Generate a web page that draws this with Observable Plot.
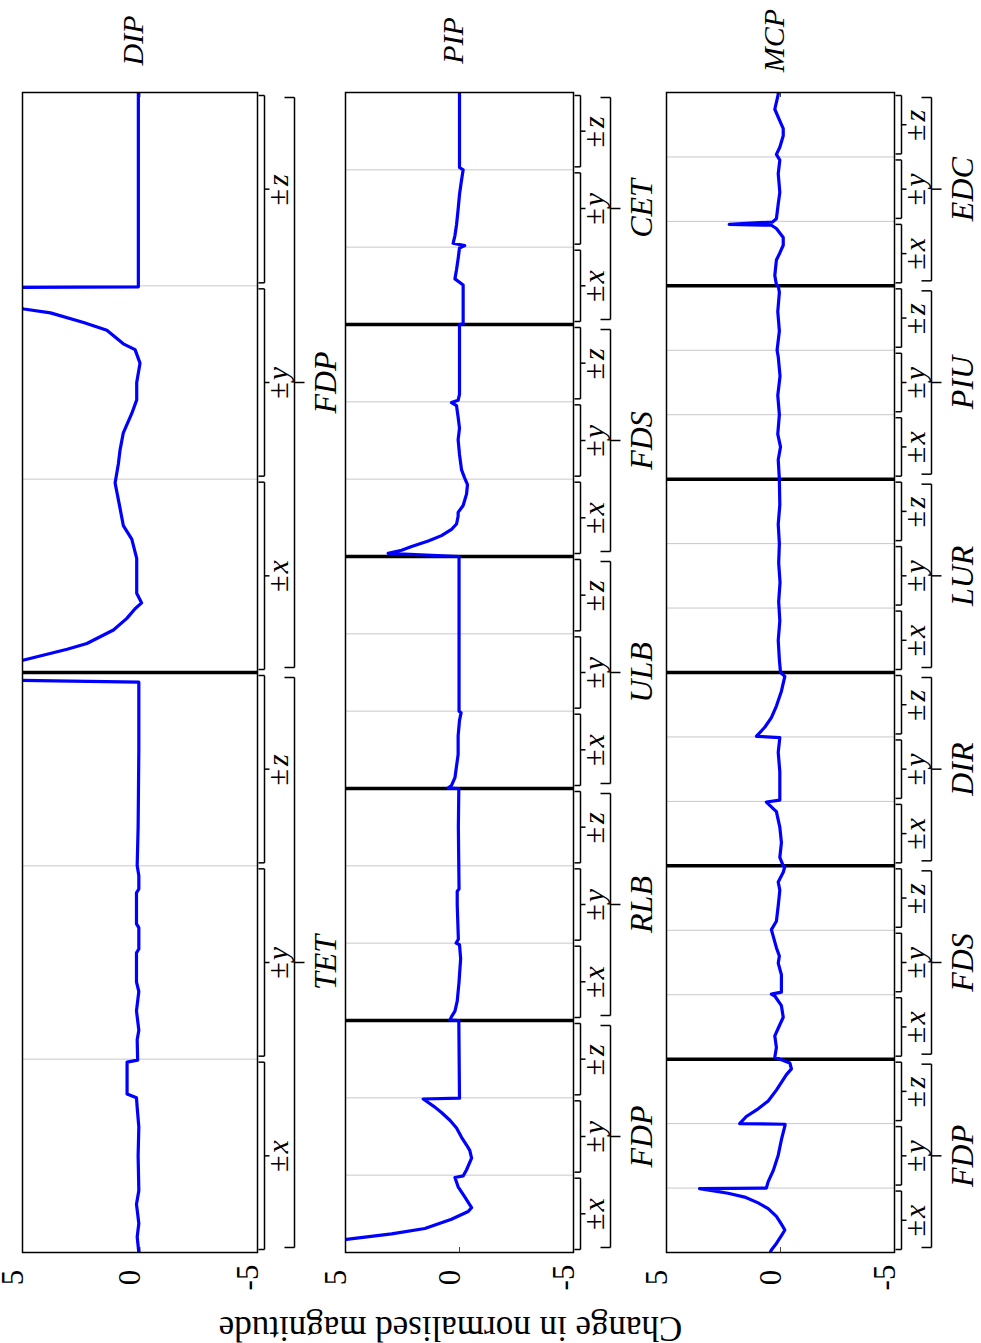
<!DOCTYPE html>
<html><head><meta charset="utf-8">
<script src="https://cdn.jsdelivr.net/npm/d3@7"></script>
<script src="https://cdn.jsdelivr.net/npm/@observablehq/plot@0.6"></script>
<style>
body{margin:0;background:#fff;}
#root{position:relative;width:981px;height:1343px;overflow:hidden;background:#fff;}
#root svg{position:absolute;top:0;left:0;}
</style></head><body><div id="root"></div>
<script>
// ---- data ----
const valueTicks = [5, 0, -5];
const axisNames = ["x", "y", "z"];
const dipGroups = ["TET", "FDP"];
const pipGroups = ["FDP", "RLB", "ULB", "FDS", "CET"];
const mcpGroups = ["FDP", "FDS", "DIR", "LUR", "PIU", "EDC"];
const yLabel = "Change in normalised magnitude";

// [position along sub-axes, change in normalised magnitude]
const dipCurve = [
  [0.00,0.05],[0.08,0.12],[0.15,0.05],[0.25,0.15],[0.32,0.05],[0.5,0.08],[0.65,0.05],[0.75,0.12],[0.80,0.15],
  [0.82,0.55],[0.985,0.55],[0.995,0.1],[1.1,0.12],[1.15,0.05],[1.25,0.15],[1.35,0.05],[1.40,0.15],[1.55,0.15],
  [1.57,0.05],[1.68,0.05],[1.70,0.15],[1.86,0.15],[1.88,0.05],[1.95,0.05],[2.0,0.12],[2.2,0.08],[2.6,0.05],
  [2.95,0.05],[2.965,8],
  [3.065,4.94],[3.12,3.1],[3.15,2.26],[3.22,1.13],[3.28,0.56],[3.33,0.21],[3.36,-0.07],[3.41,0.14],[3.5,0.14],
  [3.59,0.14],[3.69,0.35],[3.76,0.71],[3.85,0.85],[3.98,1.06],[4.08,0.92],[4.15,0.85],[4.24,0.71],[4.34,0.35],
  [4.41,0.14],[4.5,0.14],[4.6,0.0],[4.67,0.21],[4.7,0.71],[4.77,1.41],[4.81,2.4],[4.86,3.81],[4.88,4.94],
  [4.99,8],[4.995,0.07],[6,0.07]
];
const pipCurve = [
  [0.0,7],[0.17,4.96],[0.24,2.98],[0.31,1.52],[0.43,0.35],[0.53,-0.38],[0.58,-0.53],[0.72,-0.23],[0.85,0.06],
  [0.97,0.2],[0.99,-0.16],[1.07,-0.31],[1.22,-0.53],[1.32,-0.45],[1.39,-0.31],[1.49,-0.09],[1.61,0.13],
  [1.71,0.42],[1.81,0.79],[1.88,1.08],[1.94,1.37],[1.985,1.59],[1.995,0.0],[3.0,0.03],
  [3.005,0.42],[3.05,0.35],[3.12,0.2],[3.25,0.1],[3.5,0.02],[3.8,-0.05],[3.98,0.0],[4.0,0.15],[4.05,0.05],
  [4.5,0.1],[4.67,0.1],[4.7,0.02],[5.5,0.05],[6.0,0.03],
  [6.005,0.5],[6.04,0.35],[6.14,0.2],[6.29,0.13],[6.44,0.06],[6.68,0.06],[6.88,0.0],[6.98,-0.07],[7.0,0.02],
  [9.0,0.02],
  [9.04,3.13],[9.08,2.54],[9.13,2.1],[9.2,1.37],[9.27,0.79],[9.35,0.35],[9.42,0.13],[9.52,0.06],[9.57,0.06],
  [9.66,-0.16],[9.81,-0.31],[9.93,-0.35],[10.02,-0.22],[10.12,-0.09],[10.32,0.0],[10.51,0.06],[10.66,0.0],
  [10.8,0.06],[10.95,0.13],[10.99,0.35],[11.02,0.06],[11.1,0.0],[12.0,0.0],
  [12.01,-0.16],[12.51,-0.16],[12.59,0.2],[12.71,0.13],[12.85,0.06],[12.99,0.0],[13.02,-0.23],[13.05,0.28],
  [13.15,0.2],[13.29,0.13],[13.49,0.06],[13.68,0.0],[13.83,-0.07],[14.0,-0.16],[14.03,0.0],[15.0,0.0]
];
const mcpCurve = [
  [0.0,0.45],[0.04,0.4],[0.14,0.18],[0.26,-0.04],[0.35,-0.19],[0.44,-0.04],[0.56,0.18],[0.68,0.54],[0.77,0.98],
  [0.86,1.57],[0.92,2.3],[0.99,3.55],[1.0,0.62],[1.1,0.54],[1.27,0.32],[1.51,0.1],[1.75,-0.04],[1.96,-0.19],
  [1.99,-0.2],[2.0,1.79],[2.11,1.5],[2.23,0.98],[2.35,0.54],[2.52,0.18],[2.64,-0.04],[2.76,-0.26],[2.85,-0.48],
  [2.94,-0.41],[2.99,-0.04],[3.03,0.25],
  [3.18,0.18],[3.36,0.25],[3.48,0.1],[3.65,-0.12],[3.83,-0.04],[3.98,0.25],[4.01,0.4],[4.04,-0.04],[4.31,-0.04],
  [4.49,0.1],[4.6,0.05],[4.73,0.18],[5.01,0.4],[5.14,0.18],[5.38,0.1],[5.62,0.03],[5.75,0.1],[5.9,-0.12],[5.99,-0.19],
  [6.0,-0.12],[6.13,0.03],[6.36,-0.04],[6.6,0.03],[6.84,0.18],[6.99,0.62],[7.02,0.03],[7.46,0.03],[7.76,0.1],
  [7.99,0.03],[8.01,1.06],[8.15,0.69],[8.3,0.4],[8.48,0.18],[8.71,-0.04],[8.94,-0.19],[9.0,0.0],
  [9.2,0.05],[9.5,0.1],[9.8,0.03],[10.1,0.08],[10.4,0.02],[10.7,0.08],[11.0,0.05],[11.3,0.1],[11.6,0.03],[12.0,0.05],
  [12.3,0.1],[12.5,0.0],[12.7,0.12],[13.0,0.05],[13.3,0.12],[13.6,0.02],[13.9,0.1],[14.0,0.15],[14.3,0.05],
  [14.6,0.12],[14.9,0.05],[15.0,0.1],
  [15.02,0.18],[15.16,0.25],[15.4,0.18],[15.51,0.03],[15.63,-0.12],[15.75,-0.12],[15.89,0.18],[15.94,0.4],
  [15.955,2.25],[15.99,0.35],[16.04,0.18],[16.27,0.1],[16.45,0.03],[16.74,0.1],[16.95,0.03],[17.04,0.18],
  [17.15,0.03],[17.33,-0.12],[17.44,-0.12],[17.56,0.03],[17.74,0.25],[17.97,0.1],[18.0,0.1]
];

// ---- layout ----
const FONT = "'Liberation Serif','Times New Roman',serif";
const TOP = 92, BOTTOM = 1252, H = 1343, FULLW = 981;
const panels = [
  {title: "DIP", groups: dipGroups, curve: dipCurve, left: 22, right: 257},
  {title: "PIP", groups: pipGroups, curve: pipCurve, left: 345, right: 573, ylabel: true},
  {title: "MCP", groups: mcpGroups, curve: mcpCurve, left: 666, right: 894}
];

function makePanel(p) {
  const W = p.right - p.left;
  const N = p.groups.length * 3;
  const kx = 10 / W;
  const ky = N / (BOTTOM - TOP);
  const xo = off => -5 - off * kx;
  const subs = [];
  p.groups.forEach((g, gi) => axisNames.forEach((a, ai) => subs.push({g, a, start: gi * 3 + ai, end: gi * 3 + ai + 1})));
  const groups = p.groups.map((g, gi) => ({g, start: gi * 3, end: gi * 3 + 3}));
  const grid = d3.range(1, N).filter(i => i % 3 !== 0);
  const seps = d3.range(3, N, 3);
  const segs = [];
  const gs = 3 * ky, gg = 5 * ky;
  subs.forEach(s => {
    const a = s.start + gs, b = s.end - gs, m = (s.start + s.end) / 2;
    segs.push({x1: xo(1), y1: a, x2: xo(7), y2: a}, {x1: xo(7), y1: a, x2: xo(7), y2: b},
              {x1: xo(7), y1: b, x2: xo(1), y2: b}, {x1: xo(7), y1: m, x2: xo(12), y2: m});
  });
  groups.forEach(s => {
    const a = s.start + gg, b = s.end - gg, m = (s.start + s.end) / 2;
    segs.push({x1: xo(27), y1: a, x2: xo(37), y2: a}, {x1: xo(37), y1: a, x2: xo(37), y2: b},
              {x1: xo(37), y1: b, x2: xo(27), y2: b}, {x1: xo(37), y1: m, x2: xo(47), y2: m});
  });
  const marks = [
    Plot.ruleY(grid, {y: d => d, stroke: "#c8c8c8", strokeWidth: 1}),
    Plot.ruleY(seps, {y: d => d, stroke: "black", strokeWidth: 3.5}),
    Plot.ruleX(valueTicks, {x: d => d, y1: N, y2: N - 5 * ky, stroke: "#444"}),
    Plot.ruleX(valueTicks, {x: d => d, y1: 0, y2: 5 * ky, stroke: "#444"}),
    Plot.line(p.curve, {x: d => d[1], y: d => d[0], stroke: "#0000ff", strokeWidth: 3.2, clip: true, strokeLinejoin: "round"}),
    Plot.frame({stroke: "black", strokeWidth: 1.5}),
    Plot.link(segs, {x1: "x1", y1: "y1", x2: "x2", y2: "y2", stroke: "black", strokeWidth: 1.5}),
    Plot.text(subs, {x: xo(21), y: d => (d.start + d.end) / 2, text: () => "\u00b1", rotate: -90, dy: 8, fontSize: 30, fontFamily: FONT, fill: "black"}),
    Plot.text(subs, {x: xo(21), y: d => (d.start + d.end) / 2, text: d => d.a, rotate: -90, dy: -9, fontSize: 30, fontStyle: "italic", fontFamily: FONT, fill: "black"}),
    Plot.text(groups, {x: xo(68), y: d => (d.start + d.end) / 2, text: d => d.g, rotate: -90, fontSize: 32, fontStyle: "italic", fontFamily: FONT, fill: "black"}),
    Plot.text(valueTicks, {x: d => d, frameAnchor: "bottom", dy: 25, text: d => String(d), rotate: -90, fontSize: 31, fontFamily: FONT, fill: "black"}),
    Plot.text([p.title], {x: 0, frameAnchor: "top", dy: -52, dx: -18, text: d => d, rotate: -90, fontSize: 30, fontStyle: "italic", fontFamily: FONT, fill: "black"})
  ];
  if (p.ylabel) {
    marks.push(Plot.text([yLabel], {x: 0, frameAnchor: "bottom", dy: 64, dx: -9, text: d => d, rotate: 180, fontSize: 35, fontFamily: FONT, fill: "black"}));
  }
  const svg = Plot.plot({
    width: FULLW, height: H,
    marginLeft: p.left, marginRight: FULLW - p.right, marginTop: TOP, marginBottom: H - BOTTOM,
    x: {domain: [5, -5], axis: null},
    y: {domain: [0, N], axis: null},
    style: {fontFamily: FONT, background: "transparent"},
    marks
  });
  return svg;
}

const root = document.getElementById("root");
panels.forEach(p => root.appendChild(makePanel(p)));
</script></body></html>
